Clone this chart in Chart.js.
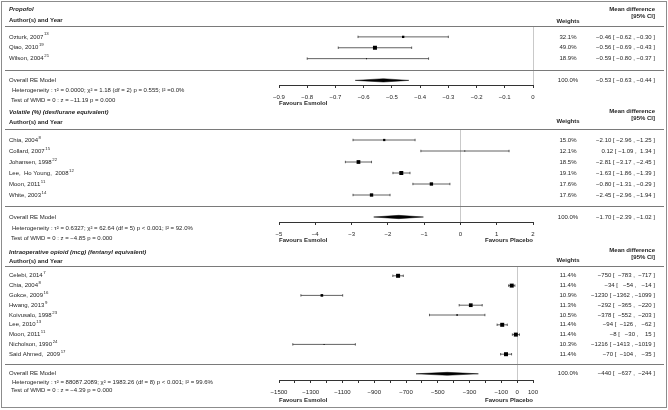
<!DOCTYPE html>
<html>
<head>
<meta charset="utf-8">
<script src="https://cdn.jsdelivr.net/npm/chart.js@4.4.1/dist/chart.umd.min.js"></script>
<style>
  html, body { margin: 0; padding: 0; background: #fff; }
  #wrap { position: relative; width: 668px; height: 410px; overflow: hidden; background: #fff; }
  #wrap canvas { position: absolute; left: 0; top: 0; }
  #frame { position: absolute; left: 1px; top: 1px; width: 666px; height: 407px; box-sizing: border-box; border: 1px solid #8c8c8c; pointer-events: none; }
</style>
</head>
<body>
<div id="wrap">
  <canvas id="cProp" width="668" height="410"></canvas>
  <canvas id="cVol" width="668" height="410"></canvas>
  <canvas id="cOpi" width="668" height="410"></canvas>
  <div id="frame"></div>
</div>
<script>
// ================= DATA =================
// Propofol
const propofolStudies = ['Ozturk, 2007', 'Qiao, 2010', 'Wilson, 2004'];
const propofolRefs = ['13', '19', '21'];
const propofolMD = [-0.46, -0.56, -0.59];
const propofolLower = [-0.62, -0.69, -0.80];
const propofolUpper = [-0.30, -0.43, -0.37];
const propofolWeights = [32.1, 49.0, 18.9];
const propofolPooled = [-0.53, -0.63, -0.44];
const propofolTickValues = [-0.9, -0.8, -0.7, -0.6, -0.5, -0.4, -0.3, -0.2, -0.1, 0];
const propofolTickLabels = ['−0.9', '−0.8', '−0.7', '−0.6', '−0.5', '−0.4', '−0.3', '−0.2', '−0.1', '0'];
const propofolHeterogeneity = 'Heterogeneity : τ² = 0.0000; χ² = 1.18 (df = 2) p = 0.555; I² =0.0%';
const propofolTest = 'Test of WMD = 0 : z = −11.19 p = 0.000';

// Volatile
const volatileStudies = ['Chia, 2004', 'Collard, 2007', 'Johansen, 1998', 'Lee,  Ho Young,  2008', 'Moon, 2011', 'White, 2003'];
const volatileRefs = ['8', '15', '22', '12', '11', '14'];
const volatileMD = [-2.10, 0.12, -2.81, -1.63, -0.80, -2.45];
const volatileLower = [-2.96, -1.09, -3.17, -1.86, -1.31, -2.96];
const volatileUpper = [-1.25, 1.34, -2.45, -1.39, -0.29, -1.94];
const volatileWeights = [15.0, 12.1, 18.5, 19.1, 17.6, 17.6];
const volatilePooled = [-1.70, -2.39, -1.02];
const volatileTickValues = [-5, -4, -3, -2, -1, 0, 1, 2];
const volatileTickLabels = ['−5', '−4', '−3', '−2', '−1', '0', '1', '2'];
const volatileHeterogeneity = 'Heterogeneity : τ² = 0.6327; χ² = 62.64 (df = 5) p < 0.001; I² = 92.0%';
const volatileTest = 'Test of WMD = 0 : z = −4.85 p = 0.000';

// Intraoperative opioid
const opioidStudies = ['Celebi, 2014', 'Chia, 2004', 'Gokce, 2009', 'Hwang, 2013', 'Koivusalo, 1998', 'Lee, 2010', 'Moon, 2011', 'Nicholson, 1990', 'Said Ahmed,  2009'];
const opioidRefs = ['7', '8', '16', '9', '23', '13', '11', '24', '17'];
const opioidMD = [-750, -34, -1230, -292, -378, -94, -8, -1216, -70];
const opioidLower = [-783, -54, -1362, -365, -552, -126, -30, -1413, -104];
const opioidUpper = [-717, -14, -1099, -220, -203, -62, 15, -1019, -35];
const opioidWeights = [11.4, 11.4, 10.9, 11.3, 10.5, 11.4, 11.4, 10.3, 11.4];
const opioidPooled = [-440, -637, -244];
const opioidTickValues = [-1500, -1400, -1300, -1200, -1100, -1000, -900, -800, -700, -600, -500, -400, -300, -200, -100, 0, 100];
const opioidTickLabels = ['−1500', '', '−1300', '', '−1100', '', '−900', '', '−700', '', '−500', '', '−300', '', '−100', '0', '100'];
const opioidHeterogeneity = 'Heterogeneity : τ² = 88087.2089; χ² = 1983.26 (df = 8) p < 0.001; I² = 99.6%';
const opioidTest = 'Test of WMD = 0 : z = −4.39 p = 0.000';

const pooledLabel = 'Overall RE Model';
const pooledWeightLabel = '100.0%';

// ================= STYLE / LAYOUT =================
const FONT = '"Liberation Sans", Arial, Helvetica, sans-serif';
const TEXT_COLOR = '#1e1e1e';
const SEP_COLOR = '#7a7a7a';
const AXIS_COLOR = '#333';
const ZERO_COLOR = '#c9c9c9';
const CI_COLOR = '#3a3a3a';
const LEFT_X = 9;
const WEIGHT_X = 568;
const MD_X = 655;
const PLOT_LEFT = 279, PLOT_RIGHT = 533, CANVAS_W = 668, CANVAS_H = 410;
const AXIS_BOX_H = 16;
const DIAMOND_H = 0.15;

function font(size, style) { return (style ? style + ' ' : '') + size + 'px ' + FONT; }
function fmtNum(v, d) { return (v < 0 ? '−' : '') + Math.abs(v).toFixed(d); }
function padL(s, n) { while (s.length < n) s = ' ' + s; return s; }

const panels = [
  { key: 'prop', canvas: 'cProp', title: 'Propofol',
    studies: propofolStudies, refs: propofolRefs, md: propofolMD, lower: propofolLower, upper: propofolUpper,
    weights: propofolWeights, pooled: propofolPooled, tickValues: propofolTickValues, tickLabels: propofolTickLabels,
    het: propofolHeterogeneity, test: propofolTest, digits: 2, placebo: false,
    titleY: 9, authY: 20, mdY: 9, ciY: 16, wY: 21, topPx: 26, sepPx: 69.5, axisPx: 85, hetY: 90.5, testY: 100, favY: 103.5 },
  { key: 'vol', canvas: 'cVol', title: 'Volatile (%) (desflurane equivalent)',
    studies: volatileStudies, refs: volatileRefs, md: volatileMD, lower: volatileLower, upper: volatileUpper,
    weights: volatileWeights, pooled: volatilePooled, tickValues: volatileTickValues, tickLabels: volatileTickLabels,
    het: volatileHeterogeneity, test: volatileTest, digits: 2, placebo: true,
    titleY: 112, authY: 122, mdY: 111, ciY: 118, wY: 121, topPx: 129, sepPx: 206, axisPx: 222, hetY: 228.5, testY: 238, favY: 240 },
  { key: 'opi', canvas: 'cOpi', title: 'Intraoperative opioid (mcg) (fentanyl equivalent)',
    studies: opioidStudies, refs: opioidRefs, md: opioidMD, lower: opioidLower, upper: opioidUpper,
    weights: opioidWeights, pooled: opioidPooled, tickValues: opioidTickValues, tickLabels: opioidTickLabels,
    het: opioidHeterogeneity, test: opioidTest, digits: 0, placebo: true,
    titleY: 252, authY: 261, mdY: 250, ciY: 257, wY: 260, topPx: 266, sepPx: 364, axisPx: 380, hetY: 382, testY: 390.5, favY: 400 }
];

function ciLabels(p) {
  const all = [];
  p.md.forEach((_, i) => all.push(fmtNum(p.md[i], p.digits), fmtNum(p.lower[i], p.digits), fmtNum(p.upper[i], p.digits)));
  p.pooled.forEach(v => all.push(fmtNum(v, p.digits)));
  const w = Math.max(...all.map(s => s.length));
  const f = (m, l, u) => padL(fmtNum(m, p.digits), w) + ' [ ' + padL(fmtNum(l, p.digits), w) + ' , ' + padL(fmtNum(u, p.digits), w) + ' ]';
  return {
    rows: p.md.map((m, i) => f(m, p.lower[i], p.upper[i])),
    pooled: f(p.pooled[0], p.pooled[1], p.pooled[2])
  };
}

function textPlugin(p) {
  const labels = ciLabels(p);
  return {
    id: 'forestText_' + p.key,
    afterDraw(chart) {
      const ctx = chart.ctx;
      const ys = chart.scales.y;
      const xs = chart.scales.x;
      const k = p.studies.length;
      ctx.save();
      // separators
      ctx.strokeStyle = SEP_COLOR;
      ctx.lineWidth = 1.2;
      [k + 1, 0].forEach(r => {
        const yy = Math.round(ys.getPixelForValue(r)) + 0.5;
        ctx.beginPath(); ctx.moveTo(5, yy); ctx.lineTo(664, yy); ctx.stroke();
      });
      ctx.fillStyle = TEXT_COLOR;
      ctx.textBaseline = 'middle';
      // headers
      ctx.textAlign = 'left';
      ctx.font = font(6, 'italic bold');
      ctx.fillText(p.title, LEFT_X, p.titleY);
      ctx.font = font(6, 'bold');
      ctx.fillText('Author(s) and Year', LEFT_X, p.authY);
      ctx.textAlign = 'center';
      ctx.fillText('Weights', WEIGHT_X, p.wY);
      ctx.textAlign = 'right';
      ctx.fillText('Mean difference', MD_X, p.mdY);
      ctx.fillText('[95% CI]', MD_X, p.ciY);
      // study rows
      p.studies.forEach((s, i) => {
        const yy = ys.getPixelForValue(k - i);
        ctx.textAlign = 'left';
        ctx.font = font(6);
        ctx.fillText(s, LEFT_X, yy);
        const w = ctx.measureText(s).width;
        ctx.font = font(4.3);
        ctx.fillText(p.refs[i], LEFT_X + w + 0.6, yy - 2.6);
        ctx.font = font(6);
        ctx.textAlign = 'center';
        ctx.fillText(p.weights[i].toFixed(1) + '%', WEIGHT_X, yy);
        ctx.textAlign = 'right';
        ctx.fillText(labels.rows[i], MD_X, yy);
      });
      // pooled row
      const py = ys.getPixelForValue(-1);
      ctx.font = font(6);
      ctx.textAlign = 'left';
      ctx.fillText(pooledLabel, LEFT_X, py);
      ctx.fillText(p.het, LEFT_X + 3, p.hetY);
      ctx.fillText(p.test, LEFT_X + 2, p.testY);
      ctx.textAlign = 'center';
      ctx.fillText(pooledWeightLabel, WEIGHT_X, py);
      ctx.textAlign = 'right';
      ctx.fillText(labels.pooled, MD_X, py);
      // favours labels
      ctx.font = font(6, 'bold');
      ctx.textAlign = 'left';
      ctx.fillText('Favours Esmolol', xs.left, p.favY);
      if (p.placebo) {
        ctx.textAlign = 'right';
        ctx.fillText('Favours Placebo', xs.right, p.favY);
      }
      ctx.restore();
    }
  };
}

function buildChart(p) {
  const k = p.studies.length;
  const rows = p.studies.map((_, i) => k - i);
  const yMax = k + 1;
  const yMin = -(p.axisPx - p.sepPx) * (k + 1) / (p.sepPx - p.topPx);
  const wMin = Math.min(...p.weights), wMax = Math.max(...p.weights);
  const sides = p.weights.map(w => 1 + 3 * (w - wMin) / ((wMax - wMin) || 1));
  const radii = sides.map(s => s / (2 * Math.SQRT1_2));

  const estData = p.md.map((m, i) => ({ x: m, y: rows[i] }));
  const ciData = [];
  const capData = [];
  p.md.forEach((_, i) => {
    ciData.push({ x: p.lower[i], y: rows[i] }, { x: p.upper[i], y: rows[i] }, { x: null, y: null });
    capData.push({ x: p.lower[i], y: rows[i] }, { x: p.upper[i], y: rows[i] });
  });
  const [pe, pl, pu] = p.pooled;
  const diamondData = [
    { x: pl, y: -1 }, { x: pe, y: -1 + DIAMOND_H }, { x: pu, y: -1 }, { x: pe, y: -1 - DIAMOND_H }, { x: pl, y: -1 }
  ];

  return new Chart(document.getElementById(p.canvas), {
    type: 'scatter',
    data: {
      datasets: [
        { type: 'scatter', label: 'Mean difference', data: estData, pointStyle: 'rect',
          pointRadius: radii, pointBackgroundColor: '#000', pointBorderColor: '#000', pointBorderWidth: 0 },
        { type: 'scatter', label: 'CI ends', data: capData, pointStyle: 'line', pointRotation: 90,
          pointRadius: 1.2, pointBorderColor: CI_COLOR, pointBorderWidth: 0.8 },
        { type: 'line', label: '95% CI', data: ciData, borderColor: CI_COLOR, borderWidth: 0.8,
          pointRadius: 0, spanGaps: false, fill: false, tension: 0 },
        { type: 'line', label: 'Overall RE Model', data: diamondData, borderColor: '#000', borderWidth: 0.5,
          backgroundColor: '#000', fill: 'shape', pointRadius: 0, tension: 0 }
      ]
    },
    options: {
      responsive: false,
      devicePixelRatio: 1,
      animation: false,
      events: [],
      layout: { padding: { left: PLOT_LEFT, right: CANVAS_W - PLOT_RIGHT, top: p.topPx, bottom: CANVAS_H - p.axisPx - AXIS_BOX_H } },
      plugins: { legend: { display: false }, tooltip: { enabled: false } },
      scales: {
        x: {
          type: 'linear',
          min: p.tickValues[0],
          max: p.tickValues[p.tickValues.length - 1],
          afterBuildTicks: s => { s.ticks = p.tickValues.map(v => ({ value: v })); },
          afterFit: s => { s.height = AXIS_BOX_H; },
          grid: {
            drawOnChartArea: true,
            color: c => (c.tick && c.tick.value === 0) ? ZERO_COLOR : 'rgba(0,0,0,0)',
            tickColor: AXIS_COLOR,
            tickLength: 3,
            lineWidth: 1
          },
          border: { display: true, color: AXIS_COLOR, width: 1 },
          ticks: {
            autoSkip: false, maxRotation: 0, minRotation: 0, padding: 5.5,
            color: TEXT_COLOR, font: { family: FONT, size: 6 },
            callback: (v, i) => p.tickLabels[i]
          }
        },
        y: { type: 'linear', display: false, min: yMin, max: yMax }
      }
    },
    plugins: [textPlugin(p)]
  });
}

panels.forEach(buildChart);
</script>
</body>
</html>
